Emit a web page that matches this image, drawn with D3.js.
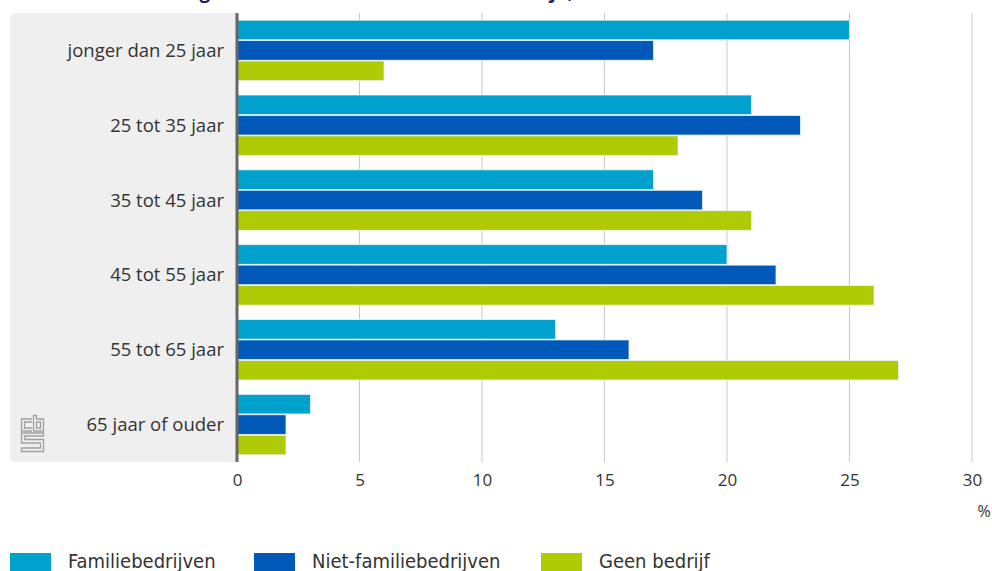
<!DOCTYPE html>
<html>
<head>
<meta charset="utf-8">
<script src="https://cdn.jsdelivr.net/npm/d3@7"></script>
<style>
  body { margin: 0; background: #fff; }
  svg { display: block; }
</style>
</head>
<body>
<script>
// data
var categories = ["jonger dan 25 jaar", "25 tot 35 jaar", "35 tot 45 jaar", "45 tot 55 jaar", "55 tot 65 jaar", "65 jaar of ouder"];
var seriesNames = ["Familiebedrijven", "Niet-familiebedrijven", "Geen bedrijf"];
var familie = [25, 21, 17, 20, 13, 3];
var nietFamilie = [17, 23, 19, 22, 16, 2];
var geenBedrijf = [6, 18, 21, 26, 27, 2];
var xTicks = [0, 5, 10, 15, 20, 25, 30];
var colors = ["#00a1cd", "#0058b8", "#afcb05"];

var seriesValues = [familie, nietFamilie, geenBedrijf];

var width = 992, height = 571;
var plot = {left: 237, right: 972, top: 13, bottom: 462};

var svg = d3.select("body").append("svg")
    .attr("width", width)
    .attr("height", height);

// title, mostly off the top of the picture
svg.append("text")
    .attr("x", 120)
    .attr("y", -2)
    .attr("fill", "#271d6c")
    .style("font-family", "'Open Sans', sans-serif")
    .style("font-weight", "bold")
    .style("font-size", "19px")
    .text("Verdeling werkzame ondernemers naar leeftijd, 2015");

var x = d3.scaleLinear().domain([0, 30]).range([plot.left, plot.right]);

var y = d3.scaleBand()
    .domain(categories)
    .range([plot.top, plot.bottom])
    .paddingInner(0.17)
    .paddingOuter(0.085);

var yInner = d3.scaleBand()
    .domain(seriesNames)
    .range([0, y.bandwidth()])
    .padding(0.04);

// grey label panel
svg.append("path")
    .attr("d", "M" + plot.left + "," + plot.top + " H15 Q10," + plot.top + " 10," + (plot.top + 5) +
        " V" + (plot.bottom - 5) + " Q10," + plot.bottom + " 15," + plot.bottom + " H" + plot.left + " Z")
    .attr("fill", "#efefef");

// grid lines
svg.append("g")
    .selectAll("line")
    .data(xTicks.slice(1))
    .enter().append("line")
    .attr("x1", d => x(d))
    .attr("x2", d => x(d))
    .attr("y1", plot.top)
    .attr("y2", plot.bottom)
    .attr("stroke", "#c8c8c8")
    .attr("stroke-width", 1);

// bars
var groups = svg.append("g")
    .selectAll("g")
    .data(categories)
    .enter().append("g")
    .attr("transform", d => "translate(0," + y(d) + ")");

groups.selectAll("rect")
    .data((c, i) => seriesNames.map((s, j) => ({series: s, value: seriesValues[j][i], color: colors[j]})))
    .enter().append("rect")
    .attr("x", x(0))
    .attr("y", d => yInner(d.series))
    .attr("width", d => x(d.value) - x(0))
    .attr("height", yInner.bandwidth())
    .attr("fill", d => d.color)
    .attr("stroke", "#eaf4f8")
    .attr("stroke-width", 0.8);

// category labels
svg.append("g")
    .selectAll("text")
    .data(categories)
    .enter().append("text")
    .attr("x", 224)
    .attr("y", d => y(d) + y.bandwidth() / 2)
    .attr("dy", "0.35em")
    .attr("text-anchor", "end")
    .attr("fill", "#333")
    .style("font-family", "'Open Sans', sans-serif")
    .style("font-size", "18.5px")
    .text(d => d);

// zero axis line
svg.append("line")
    .attr("x1", x(0))
    .attr("x2", x(0))
    .attr("y1", plot.top)
    .attr("y2", plot.bottom)
    .attr("stroke", "#666")
    .attr("stroke-width", 3);

// x axis
var xAxis = svg.append("g")
    .attr("transform", "translate(0," + plot.bottom + ")")
    .call(d3.axisBottom(x).tickValues(xTicks).tickSize(0).tickPadding(12));
xAxis.select(".domain").remove();
xAxis.selectAll("text")
    .attr("fill", "#333")
    .style("font-family", "'Open Sans', sans-serif")
    .style("font-size", "17px");

svg.append("text")
    .attr("x", 984)
    .attr("y", 517)
    .attr("text-anchor", "middle")
    .attr("fill", "#333")
    .style("font-family", "'Open Sans', sans-serif")
    .style("font-size", "16px")
    .text("%");

// cbs logo
var logo = svg.append("g")
    .attr("fill", "none")
    .attr("stroke", "#a0a0a0")
    .attr("stroke-width", 1.3);
logo.append("path").attr("d", "M32,419 H21.5 V431 H32 M32,422 H24.5 V428 H32");
logo.append("path").attr("d", "M33.5,415.5 V431 H43.5 V419 H36.5 V415.5 Z M36.5,422 H40.5 V428 H36.5 Z");
logo.append("path").attr("d", "M43.5,433 H21.5 V443 H40.5 V448 H21.5 V451.5 H43.5 V439.5 H24.5 V436 H43.5 Z");

// legend
var legend = svg.append("g")
    .selectAll("g")
    .data(seriesNames)
    .enter().append("g")
    .attr("transform", (d, i) => "translate(" + [10, 254, 541][i] + ",553)");

legend.append("rect")
    .attr("width", 41)
    .attr("height", 18)
    .attr("fill", (d, i) => colors[i]);

legend.append("text")
    .attr("x", 58)
    .attr("y", 15)
    .attr("fill", "#333")
    .style("font-family", "'Liberation Sans Narrow', 'DejaVu Sans Condensed', sans-serif")
    .style("font-size", "20px")
    .text(d => d);
</script>
</body>
</html>
